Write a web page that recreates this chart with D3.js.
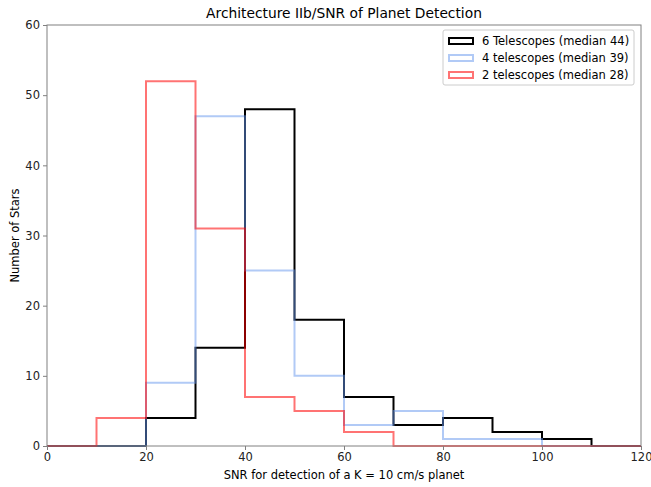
<!DOCTYPE html>
<html>
<head>
<meta charset="utf-8">
<script src="https://cdn.jsdelivr.net/npm/d3@7"></script>
<style>
  body { margin: 0; background: #fff; }
  text { font-family: "DejaVu Sans", sans-serif; }
</style>
</head>
<body>
<svg width="651" height="487"></svg>
<script>
// bin edges every 10 from 0 to 120
const binEdges = [0, 10, 20, 30, 40, 50, 60, 70, 80, 90, 100, 110, 120];
const six = [0, 0, 4, 14, 48, 18, 7, 3, 4, 2, 1, 0];
const four = [0, 0, 9, 47, 25, 10, 3, 5, 1, 1, 0, 0];
const two = [0, 4, 52, 31, 7, 5, 2, 0, 0, 0, 0, 0];
const xTicks = [0, 20, 40, 60, 80, 100, 120];
const yTicks = [0, 10, 20, 30, 40, 50, 60];
const seriesNames = ["6 Telescopes (median 44)", "4 telescopes (median 39)", "2 telescopes (median 28)"];

let svg = d3.select("svg");
const margin = {left: 47, right: 10, top: 25, bottom: 41};
let width = +svg.attr("width");
let height = +svg.attr("height");

let x = d3.scaleLinear().domain([0, 120]).range([margin.left, width - margin.right]);
let y = d3.scaleLinear().domain([0, 60]).range([height - margin.bottom, margin.top]);

const series = [
  {vals: six, color: "#000000", opacity: 1},
  {vals: four, color: "#6495ed", opacity: 0.5},
  {vals: two, color: "#ff0000", opacity: 0.55}
];

// step outline: baseline -> up/down each bin -> baseline
function stepPoints(vals) {
  let pts = [[binEdges[0], 0]];
  vals.forEach((v, i) => {
    pts.push([binEdges[i], v]);
    pts.push([binEdges[i + 1], v]);
  });
  pts.push([binEdges[binEdges.length - 1], 0]);
  return pts;
}

let line = d3.line().x(d => x(d[0])).y(d => y(d[1]));

svg.selectAll(".hist")
  .data(series)
  .enter()
  .append("path")
  .attr("class", "hist")
  .attr("d", d => line(stepPoints(d.vals)))
  .attr("fill", "none")
  .attr("stroke", d => d.color)
  .attr("stroke-opacity", d => d.opacity)
  .attr("stroke-width", 2)
  .attr("stroke-linejoin", "miter");

// frame
svg.append("rect")
  .attr("x", x(0)).attr("y", y(60))
  .attr("width", x(120) - x(0)).attr("height", y(0) - y(60))
  .attr("fill", "none").attr("stroke", "#808080").attr("stroke-width", 1);

let xAxis = svg.append("g")
  .attr("transform", `translate(0,${y(0)})`)
  .call(d3.axisBottom(x).tickValues(xTicks).tickSize(4).tickPadding(3));
let yAxis = svg.append("g")
  .attr("transform", `translate(${x(0)},0)`)
  .call(d3.axisLeft(y).tickValues(yTicks).tickSize(4).tickPadding(3));

[xAxis, yAxis].forEach(a => {
  a.select(".domain").remove();
  a.selectAll(".tick line").attr("stroke", "#808080");
  a.selectAll(".tick text").attr("fill", "#222").style("font-size", "11.5px");
});

svg.append("text")
  .attr("x", (x(0) + x(120)) / 2).attr("y", 18)
  .attr("text-anchor", "middle")
  .style("font-size", "13.8px")
  .text("Architecture IIb/SNR of Planet Detection");

svg.append("text")
  .attr("x", (x(0) + x(120)) / 2).attr("y", 479)
  .attr("text-anchor", "middle")
  .style("font-size", "11.5px")
  .text("SNR for detection of a K = 10 cm/s planet");

svg.append("text")
  .attr("transform", `translate(19,${(y(0) + y(60)) / 2}) rotate(-90)`)
  .attr("text-anchor", "middle")
  .style("font-size", "11.5px")
  .text("Number of Stars");

// legend
let legend = svg.append("g").attr("transform", "translate(443,30)");
legend.append("rect")
  .attr("width", 191).attr("height", 55).attr("rx", 2)
  .attr("fill", "#fff").attr("fill-opacity", 0.8)
  .attr("stroke", "#cccccc");

series.forEach((s, i) => {
  let row = legend.append("g").attr("transform", `translate(0,${8 + i * 17})`);
  row.append("rect")
    .attr("x", 6).attr("y", 0).attr("width", 24).attr("height", 6)
    .attr("fill", "none")
    .attr("stroke", s.color).attr("stroke-opacity", s.opacity).attr("stroke-width", 2);
  row.append("text")
    .attr("x", 39).attr("y", 7)
    .style("font-size", "11.5px")
    .text(seriesNames[i]);
});
</script>
</body>
</html>
